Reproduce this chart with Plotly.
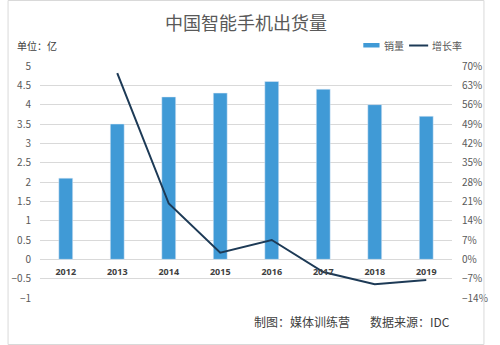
import plotly.graph_objects as go

years = ["2012", "2013", "2014", "2015", "2016", "2017", "2018", "2019"]
sales = [2.1, 3.5, 4.2, 4.3, 4.6, 4.4, 4.0, 3.7]
growth_years = ["2013", "2014", "2015", "2016", "2017", "2018", "2019"]
growth = [67.4, 20.2, 2.4, 7.0, -4.6, -9.0, -7.5]

W, H = 500, 345
L, R, T, B = 34, 34, 66, 47
PW, PH = W - L - R, H - T - B

def px(x):
    return (x - L) / PW

def py(y):
    return (H - B - y) / PH

BAR = "#409ad6"
LINE = "#1d3a56"
FONT = "Noto Sans CJK SC"

fig = go.Figure()
fig.add_trace(go.Bar(x=years, y=sales, name="销量", marker_color=BAR,
                     width=0.27, showlegend=False, yaxis="y"))
fig.add_trace(go.Scatter(x=growth_years, y=growth, name="增长率", mode="lines",
                         line=dict(color=LINE, width=2), showlegend=False, yaxis="y2"))

fig.update_layout(
    width=W, height=H,
    margin=dict(l=L, r=R, t=T, b=B),
    paper_bgcolor="white", plot_bgcolor="white",
    font=dict(family=FONT, color="#595959", size=10),
    xaxis=dict(type="category", range=[-0.5, 7.5], anchor="free",
               position=1/6, showline=False, ticks="", showgrid=False,
               tickfont=dict(size=9, color="#404040", family="Open Sans", weight="bold"),
               ticklabelstandoff=6),
    yaxis=dict(range=[-1, 5], dtick=0.5, showgrid=True, gridcolor="#d9d9d9",
               gridwidth=1, zeroline=False, ticks="", ticklabelstandoff=8,
               tickfont=dict(size=10, color="#595959")),
    yaxis2=dict(range=[-14, 70], dtick=7, overlaying="y", side="right",
                showgrid=False, zeroline=False, ticksuffix="%", ticks="",
                ticklabelstandoff=9, tickfont=dict(size=10, color="#595959")),
)

# title and notes
fig.add_annotation(x=0.5, y=py(22), xref="paper", yref="paper", text="中国智能手机出货量",
                   showarrow=False, font=dict(size=18, color="#595959", family=FONT),
                   xanchor="center", yanchor="middle")
fig.add_annotation(x=px(8), y=py(45), xref="paper", yref="paper", text="单位：亿",
                   showarrow=False, font=dict(size=10, color="#404040", family=FONT),
                   xanchor="left", yanchor="middle")
fig.add_annotation(x=px(309), y=py(321), xref="paper", yref="paper", text="制图：媒体训练营",
                   showarrow=False, font=dict(size=12, color="#404040", family=FONT),
                   xanchor="center", yanchor="middle")
fig.add_annotation(x=px(422), y=py(321), xref="paper", yref="paper", text="数据来源：IDC",
                   showarrow=False, font=dict(size=12, color="#404040", family=FONT),
                   xanchor="center", yanchor="middle")

# custom legend
fig.add_shape(type="rect", xref="paper", yref="paper", x0=px(373), x1=px(390),
              y0=py(47.5), y1=py(43), fillcolor=BAR, line=dict(width=0))
fig.add_annotation(x=px(393), y=py(45), xref="paper", yref="paper", text="销量",
                   showarrow=False, font=dict(size=10, color="#595959", family=FONT),
                   xanchor="left", yanchor="middle")
fig.add_shape(type="line", xref="paper", yref="paper", x0=px(421), x1=px(441),
              y0=py(45.5), y1=py(45.5), line=dict(color=LINE, width=2))
fig.add_annotation(x=px(443), y=py(45), xref="paper", yref="paper", text="增长率",
                   showarrow=False, font=dict(size=10, color="#595959", family=FONT),
                   xanchor="left", yanchor="middle")

# outer border
fig.add_shape(type="rect", xref="paper", yref="paper", x0=px(0.5), x1=px(499.5),
              y0=py(344.5), y1=py(0.5), line=dict(color="#d9d9d9", width=1))

fig.write_html("out.html")
